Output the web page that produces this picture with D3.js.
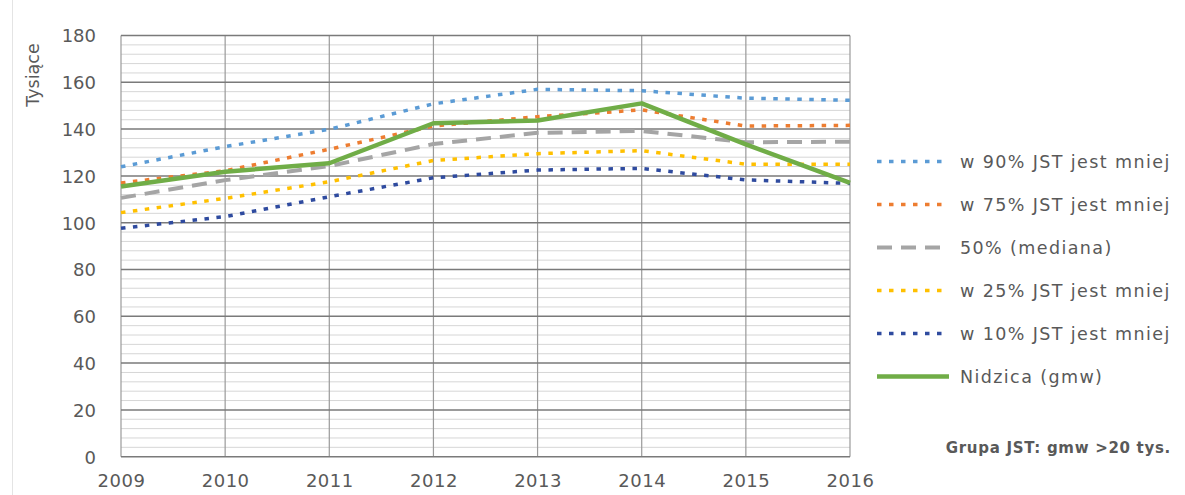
<!DOCTYPE html>
<html><head><meta charset="utf-8">
<script src="https://cdn.jsdelivr.net/npm/d3@7"></script>
<style>
html,body{margin:0;padding:0;background:#fff;}
svg{display:block;}
text{font-family:"DejaVu Sans",sans-serif;fill:#595959;}
</style></head>
<body>
<svg id="c" width="1185" height="495"></svg>
<script>
const years = [2009, 2010, 2011, 2012, 2013, 2014, 2015, 2016];
const p90 = [123.9, 132.5, 139.9, 150.8, 157.0, 156.4, 153.2, 152.3];
const p75 = [117.0, 122.2, 131.4, 141.3, 145.3, 148.2, 141.3, 141.6];
const p50 = [110.6, 118.2, 124.2, 133.6, 138.4, 139.2, 134.4, 134.6];
const p25 = [104.3, 110.4, 117.5, 126.6, 129.5, 130.8, 125.0, 125.0];
const p10 = [97.6, 102.6, 111.1, 119.2, 122.5, 123.2, 118.3, 116.8];
const nidzica = [115.5, 121.8, 125.4, 142.5, 143.7, 151.0, 133.5, 117.0];
const seriesNames = ["w 90% JST jest mniej", "w 75% JST jest mniej", "50% (mediana)", "w 25% JST jest mniej", "w 10% JST jest mniej", "Nidzica (gmw)"];
const yTicks = [0, 20, 40, 60, 80, 100, 120, 140, 160, 180];
const yTitle = "Tysiące";
const note = "Grupa JST: gmw >20 tys.";

const styles = [
  {color:"#5B9BD5", width:3.5, dash:"4.5 7.5"},
  {color:"#ED7D31", width:3.5, dash:"4.5 7.5"},
  {color:"#A5A5A5", width:4, dash:"15 9"},
  {color:"#FFC000", width:3.5, dash:"4.5 7.5"},
  {color:"#2F4B9F", width:3.5, dash:"4.5 7.5"},
  {color:"#70AD47", width:4.5, dash:null}
];
const data = [p90, p75, p50, p25, p10, nidzica];

const svg = d3.select("#c");
const L = 121, R = 850, T = 35.5, B = 456.7;
const x = d3.scalePoint().domain(years).range([L, R]);
const y = d3.scaleLinear().domain([0, 180]).range([B, T]);

// outer faint frame line on left
svg.append("line").attr("x1",12.5).attr("x2",12.5).attr("y1",0).attr("y2",495)
  .attr("stroke","#E4E4E4").attr("stroke-width",1);

// minor gridlines
const minor = d3.range(0, 181, 4).filter(v => v % 20 !== 0);
svg.append("g").selectAll("line").data(minor).join("line")
  .attr("x1", L).attr("x2", R)
  .attr("y1", d => y(d)).attr("y2", d => y(d))
  .attr("stroke", "#D6D6D6").attr("stroke-width", 1);

// vertical gridlines
svg.append("g").selectAll("line").data(years).join("line")
  .attr("x1", d => x(d)).attr("x2", d => x(d))
  .attr("y1", T).attr("y2", B)
  .attr("stroke", "#9A9A9A").attr("stroke-width", 1.2);

// major gridlines
svg.append("g").selectAll("line").data(yTicks).join("line")
  .attr("x1", L).attr("x2", R)
  .attr("y1", d => y(d)).attr("y2", d => y(d))
  .attr("stroke", "#7A7A7A").attr("stroke-width", 1.5);

// y axis labels
const yAxis = d3.axisLeft(y).tickValues(yTicks).tickSize(0).tickPadding(0);
const gy = svg.append("g").attr("transform", `translate(${L - 25},0)`).call(yAxis);
gy.select(".domain").remove();
gy.selectAll("text").attr("font-size", 18).attr("fill", "#595959")
  .style("font-family", "DejaVu Sans, sans-serif").attr("dy", "0.35em");

// x axis labels
const xAxis = d3.axisBottom(x).tickSize(0).tickPadding(0);
const gx = svg.append("g").attr("transform", `translate(0,${B + 18})`).call(xAxis);
gx.select(".domain").remove();
gx.selectAll("text").attr("font-size", 18).attr("fill", "#595959")
  .style("font-family", "DejaVu Sans, sans-serif").attr("letter-spacing", 0.5);

// y title
svg.append("text").attr("transform", `translate(39,75) rotate(-90)`)
  .attr("text-anchor", "middle").attr("font-size", 17.5).text(yTitle);

// series
const line = d3.line().x((d, i) => x(years[i])).y(d => y(d));
data.forEach((s, k) => {
  const st = styles[k];
  svg.append("path").datum(s).attr("d", line)
    .attr("fill", "none").attr("stroke", st.color).attr("stroke-width", st.width)
    .attr("stroke-dasharray", st.dash).attr("stroke-linejoin", "round");
});

// legend
const lg = svg.append("g");
seriesNames.forEach((name, k) => {
  const st = styles[k];
  const ly = 161.5 + k * 43;
  lg.append("line").attr("x1", 877).attr("x2", 949).attr("y1", ly).attr("y2", ly)
    .attr("stroke", st.color).attr("stroke-width", st.width).attr("stroke-dasharray", st.dash);
  lg.append("text").attr("x", 960).attr("y", ly).attr("dy", "0.35em")
    .attr("font-size", 17.5).attr("letter-spacing", 1.4).text(name);
});

svg.append("text").attr("x", 1171).attr("y", 448).attr("dy", "0.35em")
  .attr("text-anchor", "end").attr("font-size", 15).attr("font-weight", "bold")
  .attr("letter-spacing", 0.7).text(note);
</script>
</body></html>
